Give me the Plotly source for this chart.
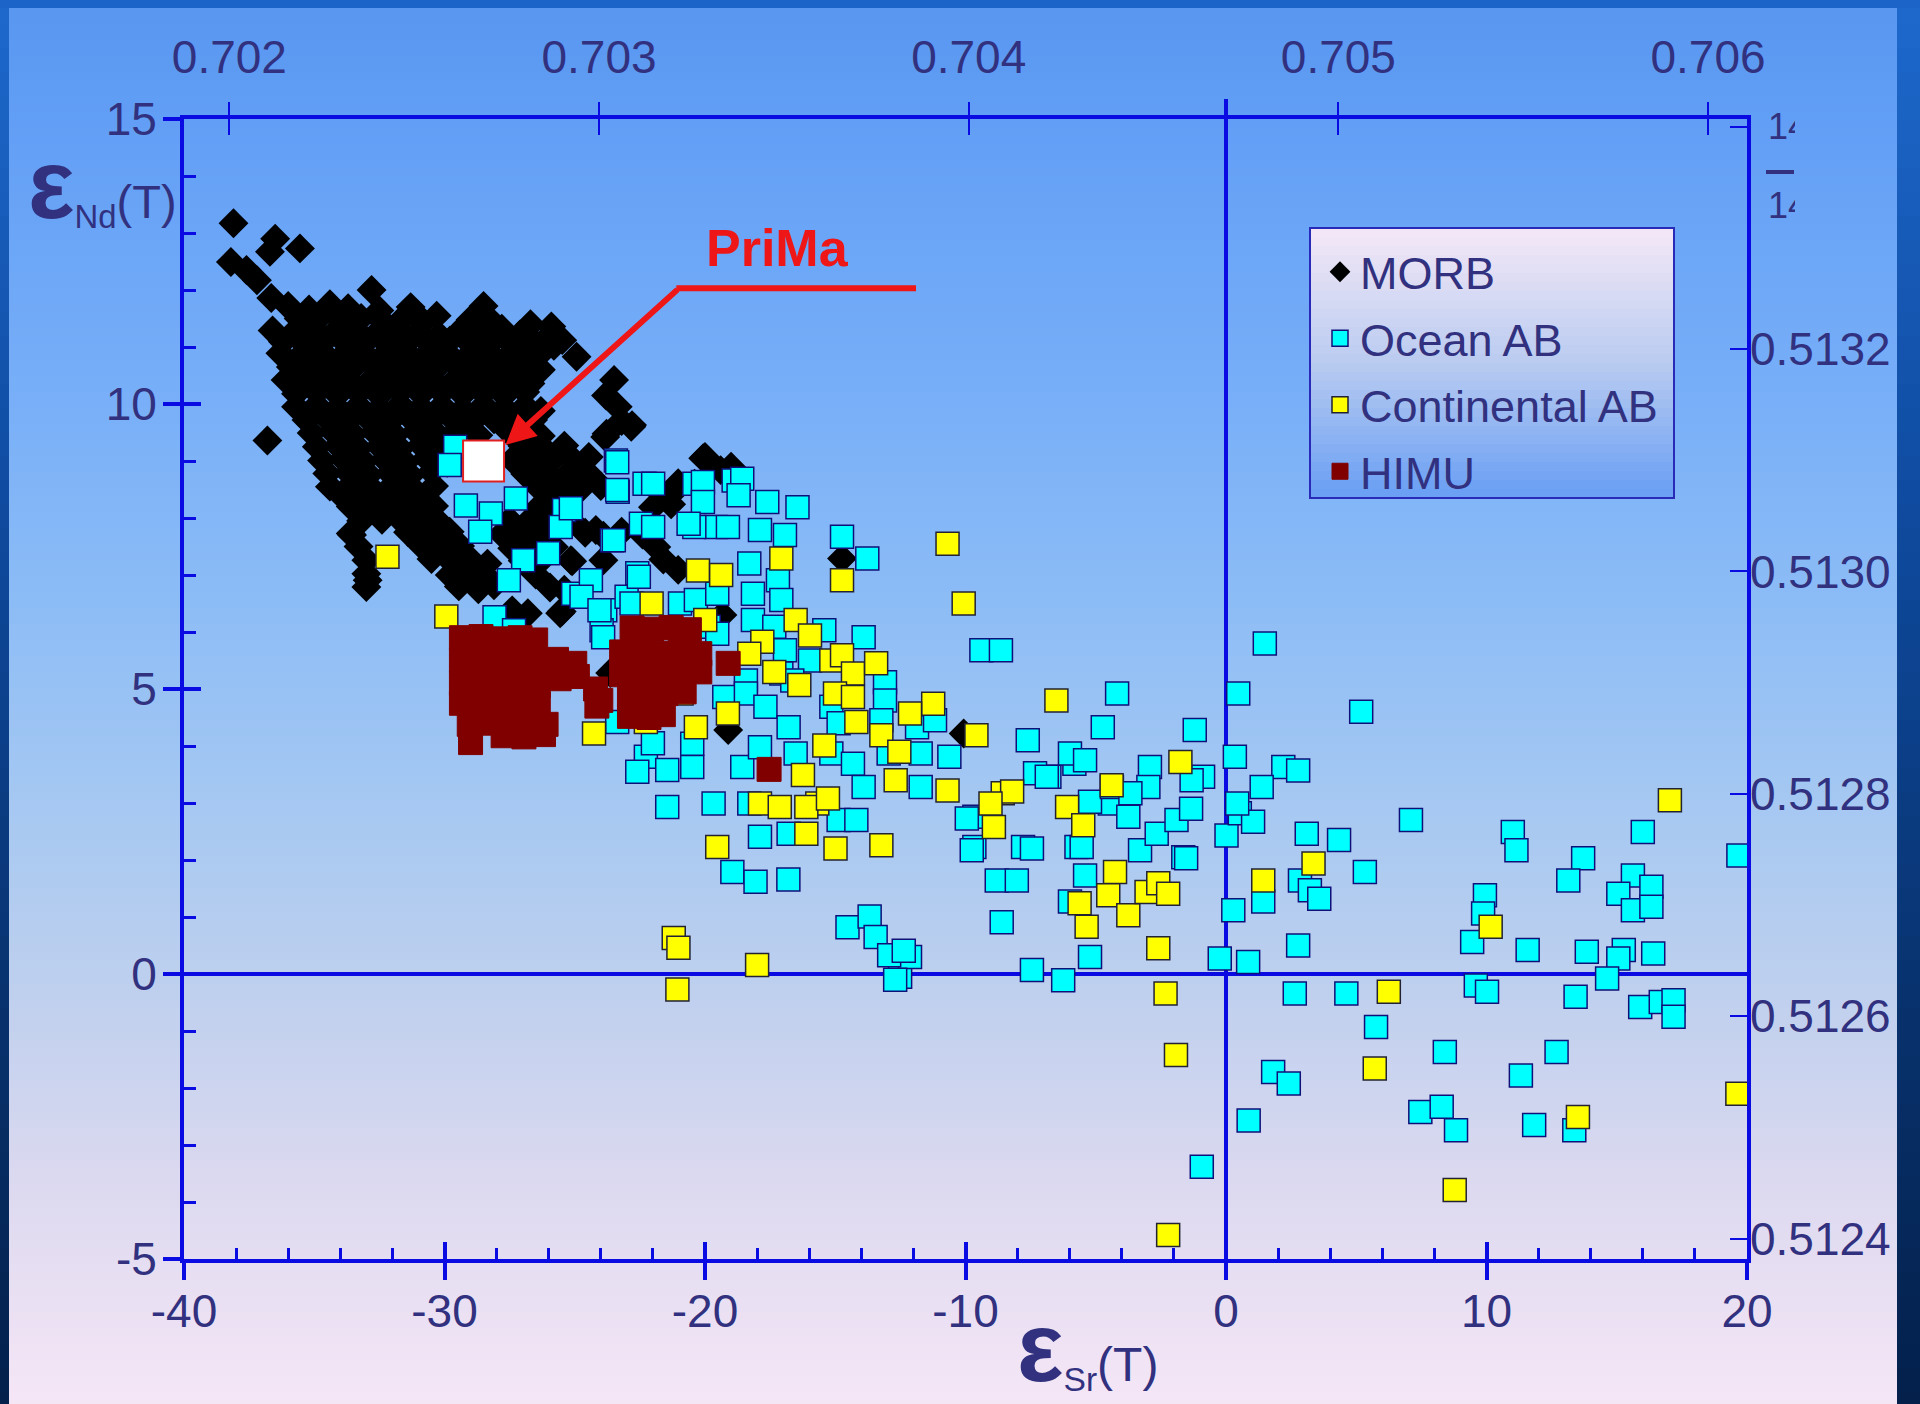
import plotly.graph_objects as go

# ------------------------------------------------------------------
# Initial isotope compositions, (eps_Sr(T), eps_Nd(T)) pairs
# ------------------------------------------------------------------
MORB_PTS = [
    (-38.1, 13.17), (-36.5, 12.90), (-36.7, 12.67), (-35.55, 12.73),
    (-38.2, 12.49), (-37.6, 12.35), (-37.2, 12.17), (-36.65, 11.86),
    (-32.8, 12.00), (-36.8, 9.36), (-33.55, 7.70), (-32.95, 6.91),
    (-36.0, 11.72), (-35.2, 11.66), (-34.4, 11.75), (-33.7, 11.68), (-32.5, 11.64),
    (-31.3, 11.70), (-30.3, 11.55), (-28.5, 11.72),
    (-35.6, 11.50), (-34.8, 11.52), (-34.0, 11.47), (-33.2, 11.51), (-32.4, 11.46),
    (-31.6, 11.50), (-30.8, 11.44), (-29.0, 11.48), (-28.2, 11.45), (-26.7, 11.40),
    (-25.9, 11.36),
    (-36.6, 11.29), (-35.8, 11.25), (-35.0, 11.32), (-34.2, 11.27), (-33.4, 11.30),
    (-32.6, 11.24), (-31.8, 11.31), (-31.0, 11.26), (-30.2, 11.20), (-29.4, 11.28),
    (-28.6, 11.25), (-27.8, 11.32), (-27.1, 11.22),
    (-36.2, 11.09), (-35.4, 11.06), (-34.6, 11.11), (-33.8, 11.07), (-33.0, 11.10),
    (-32.2, 11.05), (-31.4, 11.09), (-30.6, 11.06), (-29.8, 11.11), (-29.0, 11.05),
    (-28.2, 11.08), (-27.4, 11.04), (-26.6, 11.10), (-25.8, 11.02),
    (-26.02, 11.18), (-25.48, 11.12), (-24.93, 10.83), (-26.44, 10.83),
    (-36.3, 10.89), (-35.5, 10.86), (-34.7, 10.92), (-33.9, 10.85), (-33.1, 10.90),
    (-32.3, 10.87), (-31.5, 10.93), (-30.7, 10.86), (-29.9, 10.90), (-29.1, 10.84),
    (-28.3, 10.91), (-27.5, 10.86), (-26.7, 10.95),
    (-35.9, 10.65), (-35.1, 10.63), (-34.3, 10.67), (-33.5, 10.64), (-32.7, 10.66),
    (-31.9, 10.62), (-31.1, 10.68), (-30.3, 10.63), (-29.5, 10.66), (-28.7, 10.61),
    (-27.9, 10.67), (-27.1, 10.63), (-26.3, 10.60),
    (-36.1, 10.42), (-35.3, 10.45), (-34.5, 10.40), (-33.7, 10.44), (-32.9, 10.39),
    (-32.1, 10.46), (-31.3, 10.41), (-30.5, 10.45), (-29.7, 10.38), (-28.9, 10.44),
    (-28.1, 10.40), (-27.3, 10.47), (-26.7, 10.36), (-23.49, 10.42),
    (-35.7, 10.18), (-34.9, 10.20), (-34.1, 10.16), (-33.3, 10.19), (-32.5, 10.15),
    (-31.7, 10.21), (-30.9, 10.17), (-30.1, 10.20), (-29.3, 10.16), (-28.5, 10.19),
    (-27.7, 10.15), (-26.9, 10.21), (-23.8, 10.15),
    (-35.7, 9.95), (-34.9, 9.98), (-34.1, 9.93), (-33.3, 9.97), (-32.5, 9.92),
    (-31.7, 9.99), (-30.9, 9.94), (-30.1, 9.97), (-29.3, 9.91), (-28.5, 9.98),
    (-27.7, 9.93), (-26.9, 9.96), (-26.3, 9.88), (-23.35, 9.95),
    (-35.3, 9.72), (-34.5, 9.74), (-33.7, 9.70), (-32.9, 9.73), (-32.1, 9.69),
    (-31.3, 9.75), (-30.5, 9.71), (-29.7, 9.74), (-28.9, 9.70), (-28.1, 9.73),
    (-27.3, 9.69), (-26.6, 9.72), (-23.2, 9.70),
    (-35.1, 9.49), (-34.3, 9.52), (-33.5, 9.47), (-32.7, 9.51), (-31.9, 9.46),
    (-31.1, 9.52), (-30.3, 9.48), (-29.5, 9.55), (-28.7, 9.45), (-27.5, 9.50),
    (-26.3, 9.44), (-23.83, 9.42), (-22.8, 9.63),
    (-34.9, 9.25), (-34.1, 9.27), (-33.3, 9.23), (-32.5, 9.26), (-31.7, 9.22),
    (-30.9, 9.28), (-30.1, 9.24), (-27.0, 9.26), (-26.2, 9.22), (-25.4, 9.27),
    (-34.7, 9.01), (-33.9, 9.04), (-33.1, 8.99), (-32.3, 9.03), (-31.5, 8.98),
    (-30.7, 9.05), (-29.9, 8.97), (-27.4, 9.02), (-26.6, 8.96), (-25.8, 9.04),
    (-25.0, 8.99), (-20.0, 9.07), (-19.0, 8.90),
    (-34.5, 8.78), (-33.7, 8.80), (-32.9, 8.76), (-32.1, 8.79), (-31.3, 8.75),
    (-30.5, 8.81), (-26.9, 8.77), (-26.1, 8.80), (-25.3, 8.75), (-24.5, 8.79),
    (-34.4, 8.55), (-33.6, 8.58), (-32.8, 8.52), (-32.0, 8.57), (-31.2, 8.51),
    (-30.4, 8.56), (-26.4, 8.54), (-25.6, 8.58), (-24.8, 8.50), (-24.0, 8.56),
    (-21.0, 8.55), (-20.4, 8.60),
    (-33.9, 8.37), (-33.1, 8.39), (-32.3, 8.35), (-31.5, 8.38), (-30.7, 8.34),
    (-26.0, 8.37), (-25.2, 8.33), (-21.6, 8.38),
    (-33.6, 8.20), (-32.8, 8.17), (-32.0, 8.22), (-31.2, 8.16), (-30.4, 8.21),
    (-26.4, 8.18), (-25.6, 8.23), (-22.0, 8.19), (-21.3, 8.24),
    (-33.2, 7.95), (-32.4, 7.97), (-31.6, 7.93), (-30.9, 7.96), (-30.2, 7.92),
    (-27.5, 7.96), (-26.8, 7.93), (-26.0, 7.97),
    (-33.6, 7.73), (-31.4, 7.75), (-30.6, 7.70), (-29.8, 7.76), (-27.8, 7.72),
    (-27.1, 7.77), (-26.4, 7.70), (-24.6, 7.74), (-23.9, 7.69), (-23.2, 7.76),
    (-22.4, 7.71),
    (-33.3, 7.50), (-30.9, 7.52), (-30.1, 7.48), (-29.4, 7.51), (-27.4, 7.47),
    (-26.6, 7.52), (-25.8, 7.49),
    (-33.0, 7.26), (-30.5, 7.28), (-29.7, 7.22), (-29.0, 7.27), (-28.35, 7.20),
    (-27.0, 7.25), (-26.2, 7.30), (-25.1, 7.24), (-21.6, 7.27),
    (-33.0, 7.02), (-29.8, 7.00), (-29.1, 7.04), (-28.4, 6.98), (-26.5, 7.01),
    (-33.0, 6.79), (-29.45, 6.80), (-28.7, 6.75), (-28.1, 6.82), (-25.95, 6.78),
    (-25.4, 6.74), (-27.4, 6.38), (-26.8, 6.33), (-25.5, 6.36),
    (-22.83, 9.60), (-23.78, 9.48), (-24.46, 9.07), (-20.07, 9.05), (-19.4, 8.84),
    (-21.03, 8.61), (-25.15, 7.96), (-24.19, 7.79), (-25.15, 7.26), (-23.9, 7.26),
    (-21.03, 7.09), (-25.56, 6.33), (-21.87, 7.49), (-25.0, 8.44),
    (-14.74, 7.29), (-19.11, 4.28), (-10.07, 4.22), (-23.64, 5.28), (-19.33, 6.30),
]

OCEAN_AB_PTS = [
    (-29.59, 9.25), (-29.8, 8.93), (-29.18, 8.22), (-28.22, 8.08), (-27.26, 8.34),
    (-28.63, 7.76), (-25.41, 8.14), (-25.54, 7.84), (-23.42, 9.01), (-23.35, 8.46),
    (-22.32, 8.60), (-23.57, 7.61), (-22.46, 7.90), (-20.41, 8.60), (-19.58, 7.84),
    (-20.41, 7.84), (-18.9, 8.66), (-26.02, 7.38), (-26.98, 7.26), (-27.53, 6.91),
    (-28.08, 6.26), (-27.33, 6.03), (-25.06, 6.67), (-24.38, 6.91), (-23.83, 6.38),
    (-23.01, 6.62), (-22.6, 7.03), (-23.97, 6.03), (-20.96, 6.50), (-19.86, 6.09),
    (-23.37, 8.98), (-23.37, 8.49), (-21.99, 8.60), (-25.15, 8.17), (-20.08, 8.63),
    (-18.57, 8.69), (-20.08, 8.28), (-18.71, 8.40), (-17.61, 8.28), (-16.45, 8.19),
    (-21.99, 7.84), (-23.5, 7.61), (-20.63, 7.90), (-19.12, 7.84), (-17.89, 7.79),
    (-16.93, 7.70), (-14.74, 7.67), (-13.77, 7.29), (-22.54, 6.97), (-24.74, 6.62),
    (-24.05, 6.38), (-22.82, 6.50), (-20.35, 6.56), (-19.53, 6.67), (-18.3, 7.20),
    (-18.16, 6.67), (-17.2, 6.91), (-17.07, 6.56), (-18.16, 6.21), (-23.91, 5.91),
    (-20.76, 5.91), (-19.53, 5.97), (-17.34, 6.09), (-15.42, 6.03), (-13.91, 5.91),
    (-16.93, 5.68), (-15.97, 5.50), (-18.43, 5.15), (-17.07, 5.27), (-19.26, 4.86),
    (-18.43, 4.92), (-17.68, 4.69), (-16.65, 5.15), (-13.09, 5.12), (-13.09, 4.80),
    (-15.15, 4.69), (-14.87, 4.40), (-13.23, 4.45), (-11.86, 4.33), (-11.17, 4.45),
    (-10.62, 3.81), (-9.39, 5.68), (-8.64, 5.68), (-7.61, 4.10), (-4.18, 4.92),
    (-4.73, 4.33), (-6.78, 3.46), (-5.82, 3.69), (-23.37, 4.42), (-22.27, 3.81),
    (-21.45, 3.58), (-20.49, 3.63), (-20.49, 4.04), (-18.57, 3.63), (-17.89, 3.98),
    (-16.79, 4.33), (-16.52, 3.87), (-15.15, 3.87), (-14.32, 3.69), (-13.91, 3.28),
    (-12.95, 3.87), (-11.72, 3.87), (-11.72, 3.28), (-9.66, 2.76), (-21.45, 2.93),
    (-19.67, 2.99), (-18.3, 2.99), (-17.89, 2.41), (-16.79, 2.46), (-14.87, 2.70),
    (-14.19, 2.70), (-7.33, 3.52), (-9.66, 2.23), (-7.79, 2.23), (-5.74, 2.23),
    (-4.46, 2.99),
    (1.49, 5.80), (0.47, 4.92), (-1.2, 4.28), (0.34, 3.81), (-5.99, 3.87),
    (-5.41, 3.75), (-6.88, 3.46), (-2.92, 3.63), (-0.88, 3.46), (-1.32, 3.40),
    (-2.98, 3.28), (-9.95, 2.73), (-9.76, 2.17), (-8.8, 1.64), (-8.03, 1.64),
    (-8.61, 0.91), (-7.45, 2.20), (-5.22, 3.02), (-5.54, 2.23), (-3.75, 2.76),
    (-3.30, 2.17), (-2.66, 2.46), (-1.90, 2.70), (-1.64, 2.05), (-4.38, 3.28),
    (-3.67, 3.17), (-5.41, 1.73), (-5.99, 1.27), (-5.22, 0.30), (0.02, 2.43),
    (0.53, 2.82), (1.04, 2.67), (0.28, 1.12), (1.43, 1.27), (3.10, 2.46),
    (2.77, 0.50), (-0.24, 0.27), (0.85, 0.21), (-7.45, 0.07), (-6.25, -0.11),
    (2.64, -0.34), (-12.51, -0.05), (-12.13, 0.30), (2.2, 3.63), (2.77, 3.57),
    (1.37, 3.28), (2.84, 1.64), (3.22, 1.47),
    (5.19, 4.60), (-1.34, 2.90), (0.43, 2.99), (7.10, 2.70), (4.34, 2.35),
    (5.33, 1.79), (-1.53, 2.03), (3.58, 1.32), (11.01, 2.49), (11.15, 2.17),
    (13.71, 2.03), (13.14, 1.64), (16.0, 2.49), (19.67, 2.08), (15.62, 1.73),
    (16.33, 1.53), (15.06, 1.41), (15.62, 1.12), (16.33, 1.18), (9.94, 1.38),
    (9.87, 1.06), (9.45, 0.56), (11.58, 0.42), (13.85, 0.39), (15.27, 0.42),
    (15.06, 0.27), (16.4, 0.36), (14.63, -0.08), (9.59, -0.20), (10.02, -0.31),
    (13.42, -0.40), (15.9, -0.58), (16.69, -0.49), (17.18, -0.46), (17.18, -0.75),
    (4.62, -0.34), (5.76, -0.93),
    (1.81, -1.72), (2.41, -1.92), (0.87, -2.57), (-0.93, -3.38), (7.46, -2.42),
    (8.28, -2.33), (8.83, -2.74), (8.40, -1.37), (12.69, -1.37), (11.32, -1.78),
    (11.83, -2.65), (13.37, -2.74),
    (-14.53, 0.82), (-13.68, 1.01), (-13.45, 0.65), (-12.93, 0.33), (-12.37, 0.41),
    (-12.70, -0.10), (-18.95, 1.79), (-18.06, 1.62), (-16.8, 1.66), (-22.0, 4.05),
    (-22.6, 3.55),
]

CONT_AB_PTS = [
    (-32.19, 7.32), (-29.93, 6.27), (-22.05, 6.50), (-20.27, 7.08), (-19.38, 7.00),
    (-19.99, 6.21), (-17.07, 7.29), (-14.74, 6.91), (-16.52, 6.21), (-15.97, 5.94),
    (-17.8, 5.83), (-18.3, 5.62), (-17.34, 5.30), (-15.15, 5.50), (-14.74, 5.59),
    (-14.32, 5.27), (-13.43, 5.45), (-15.01, 4.92), (-14.32, 4.86), (-16.38, 5.07),
    (-14.19, 4.42), (-13.23, 4.19), (-12.54, 3.90), (-11.24, 4.74), (-12.13, 4.57),
    (-9.58, 4.19), (-15.42, 4.01), (-19.12, 4.57), (-20.35, 4.33), (-24.26, 4.22),
    (-22.27, 4.42), (-20.9, 4.92), (-10.69, 7.55), (-10.07, 6.50), (-6.51, 4.80),
    (-4.39, 3.31), (-6.1, 2.93), (-5.48, 2.61), (-8.57, 3.17), (-8.91, 2.58),
    (-10.69, 3.22), (-12.68, 3.40), (-16.24, 3.49), (-15.69, 2.99), (-16.11, 2.93),
    (-15.28, 3.08), (-17.89, 2.99), (-17.13, 2.93), (-16.11, 2.46), (-14.99, 2.20),
    (-13.23, 2.26), (-19.53, 2.23), (-8.21, 3.20), (-9.04, 2.99), (-4.26, 1.79),
    (-5.62, 1.24), (-5.35, 0.83), (-4.52, 1.38), (-3.75, 1.03), (-3.05, 1.44),
    (-2.6, 1.59), (-2.22, 1.41), (-2.6, 0.45), (-1.75, 3.72), (-2.32, -0.34),
    (1.43, 1.64), (3.36, 1.94), (17.04, 3.05), (10.16, 0.83), (6.25, -0.31),
    (-1.92, -1.42), (-2.22, -4.58), (5.71, -1.66), (8.78, -3.79), (13.51, -2.51),
    (19.63, -2.10), (-21.2, 0.63), (-21.02, 0.46), (-21.06, -0.27), (-18.0, 0.16),
]

HIMU_PTS = [
    (-29.35, 5.90), (-28.6, 5.92), (-27.85, 5.88), (-27.1, 5.90), (-26.5, 5.86),
    (-29.35, 5.50), (-28.6, 5.52), (-27.85, 5.48), (-27.1, 5.50), (-26.5, 5.46),
    (-25.7, 5.52), (-25.0, 5.45),
    (-29.35, 5.10), (-28.6, 5.12), (-27.85, 5.08), (-27.1, 5.10), (-26.4, 5.06),
    (-25.6, 5.18), (-24.9, 5.22), (-24.2, 5.00),
    (-29.35, 4.75), (-28.7, 4.72), (-27.9, 4.76), (-27.1, 4.70), (-26.4, 4.74),
    (-24.0, 4.80), (-24.15, 4.70),
    (-29.05, 4.38), (-28.3, 4.40), (-27.55, 4.36), (-26.8, 4.40), (-26.1, 4.38),
    (-29.0, 4.06), (-27.75, 4.18), (-26.95, 4.16), (-26.2, 4.20),
    (-22.8, 6.07), (-22.05, 6.05), (-21.3, 6.08), (-20.6, 6.04),
    (-23.2, 5.65), (-22.45, 5.67), (-21.7, 5.63), (-20.95, 5.66), (-20.2, 5.62),
    (-23.2, 5.25), (-22.45, 5.27), (-21.7, 5.23), (-20.95, 5.26), (-20.2, 5.30),
    (-22.9, 4.90), (-22.2, 4.88), (-21.5, 4.92), (-20.8, 4.95),
    (-22.9, 4.52), (-22.15, 4.50), (-21.6, 4.55),
    (-19.11, 5.45), (-17.54, 3.59),
]

# Primitive mantle estimate and its call-out
PRIMA_PT = (-28.5, 9.0)
PRIMA_LABEL_PT = (-17.2, 12.73)
PRIMA_LEADER_END = (-11.9, 12.03)
PRIMA_LEADER_KNEE = (-21.0, 12.03)
PRIMA_ARROW_TIP = (-27.66, 9.28)

# Axes
X_RANGE = [-40, 20]
Y_RANGE = [-5, 15]
ESR_TICKS = [-40, -30, -20, -10, 0, 10, 20]
ESR_TICK_TEXT = ["-40", "-30", "-20", "-10", "0", "10", "20"]
END_TICKS = [-5, 0, 5, 10, 15]
END_TICK_TEXT = ["-5", "0", "5", "10", "15"]
SR_RATIO_TICKS = [0.702, 0.703, 0.704, 0.705, 0.706]
SR_RATIO_TEXT = ["0.702", "0.703", "0.704", "0.705", "0.706"]
ND_RATIO_TICKS = [0.5124, 0.5126, 0.5128, 0.5130, 0.5132, 0.5134]
ND_RATIO_TEXT = ["0.5124", "0.5126", "0.5128", "0.5130", "0.5132", ""]

# Bulk-earth reference ratios used to turn epsilon units into ratios
SR_BULK = 0.704696
ND_CHUR = 0.512638

# ------------------------------------------------------------------
# Page geometry and styling
# ------------------------------------------------------------------
W, H = 1920, 1404
L, R, T, B = 184, 173, 119, 145
PW, PH = W - L - R, H - T - B

FONT = "Liberation Sans, Arial, Helvetica, sans-serif"
TXT = "#31317f"
AX_BLUE = "#0a0ae2"
RED = "#ee1616"

BG_STOPS = [(0, (88, 150, 240)), (150, (100, 160, 246)), (400, (120, 175, 248)),
            (600, (140, 188, 246)), (800, (165, 200, 242)), (1000, (192, 208, 238)),
            (1200, (222, 218, 240)), (1404, (245, 230, 246))]
EDGE_STOPS = [(0, (30, 105, 205)), (500, (15, 75, 160)), (1000, (8, 50, 110)),
              (1404, (4, 32, 75))]
LEG_STOPS = [(0, (245, 232, 247)), (0.5, (185, 203, 240)), (1, (104, 158, 244))]

LEG_BOX = (1310, 228, 1674, 498)   # left, top, right, bottom in pixels


def px_x(px):
    return (px - L) / PW


def px_y(py):
    return (H - B - py) / PH


def mix(stops, t):
    for (p0, c0), (p1, c1) in zip(stops, stops[1:]):
        if p0 <= t <= p1:
            f = (t - p0) / (p1 - p0)
            return "rgb(%d,%d,%d)" % tuple(round(a + (b - a) * f) for a, b in zip(c0, c1))
    return "rgb(%d,%d,%d)" % stops[-1][1]


def split(pts):
    return [p[0] for p in pts], [p[1] for p in pts]


def rect(x0, y0, x1, y1, color, layer="below"):
    return dict(type="rect", xref="paper", yref="paper", layer=layer,
                x0=px_x(x0), x1=px_x(x1), y0=px_y(y1), y1=px_y(y0),
                fillcolor=color, line=dict(width=0))


shapes = []
# slide background: vertical blue-to-pink gradient
step = 8
for y in range(0, H, step):
    shapes.append(rect(0, y, W, y + step + 1, mix(BG_STOPS, y + step / 2)))
# darker slide frame on the left, top and right edges
for y in range(0, H, 24):
    c = mix(EDGE_STOPS, y + 12)
    shapes.append(rect(0, y, 9, y + 25, c))
    shapes.append(rect(1897, y, W, y + 25, c))
shapes.append(rect(0, 0, W, 8, "rgb(28,100,200)"))

# legend panel gradient (pink at top, blue at bottom) and border
lx0, ly0, lx1, ly1 = LEG_BOX
n = 30
for i in range(n):
    ya = ly0 + (ly1 - ly0) * i / n
    yb = ly0 + (ly1 - ly0) * (i + 1) / n + 1
    shapes.append(rect(lx0, ya, lx1, yb, mix(LEG_STOPS, (i + 0.5) / n)))
shapes.append(dict(type="rect", xref="paper", yref="paper", layer="below",
                   x0=px_x(lx0), x1=px_x(lx1), y0=px_y(ly1), y1=px_y(ly0),
                   line=dict(color="#2a2ab8", width=2), fillcolor="rgba(0,0,0,0)"))

# the eps_Sr = 0 line pokes slightly above the top frame
shapes.append(dict(type="line", xref="x", yref="paper", x0=0, x1=0, y0=1.0,
                   y1=1.0 + 20 / PH, line=dict(color=AX_BLUE, width=4)))
# fraction bar of the clipped right-hand axis title
shapes.append(dict(type="line", xref="paper", yref="paper", x0=px_x(1766), x1=px_x(1794),
                   y0=px_y(172), y1=px_y(172), line=dict(color=TXT, width=4)))
# horizontal leader under the PriMa label
shapes.append(dict(type="line", xref="x", yref="y",
                   x0=PRIMA_LEADER_KNEE[0] - 0.1, x1=PRIMA_LEADER_END[0],
                   y0=PRIMA_LEADER_KNEE[1], y1=PRIMA_LEADER_END[1],
                   line=dict(color=RED, width=6)))

# ------------------------------------------------------------------
# Traces
# ------------------------------------------------------------------
fig = go.Figure()

series = [
    ("MORB", MORB_PTS, dict(symbol="diamond", size=23, color="#000000", line=dict(width=0))),
    ("Ocean AB", OCEAN_AB_PTS, dict(symbol="square", size=23, color="#00ffff",
                                   line=dict(color="#10107a", width=1.5))),
    ("Continental AB", CONT_AB_PTS, dict(symbol="square", size=23, color="#ffff00",
                                         line=dict(color="#222233", width=1.5))),
    ("HIMU", HIMU_PTS, dict(symbol="square", size=24, color="#800000",
                            line=dict(color="#800000", width=1))),
]
for name, pts, marker in series:
    xs, ys = split(pts)
    fig.add_trace(go.Scatter(x=xs, y=ys, mode="markers", name=name, legendgroup=name,
                             marker=marker, cliponaxis=False, hoverinfo="skip"))

fig.add_trace(go.Scatter(x=[PRIMA_PT[0]], y=[PRIMA_PT[1]], mode="markers", showlegend=False,
                         marker=dict(symbol="square", size=41, color="#ffffff",
                                     line=dict(color="#e02020", width=2)),
                         cliponaxis=False, hoverinfo="skip"))

# empty traces so the secondary / tick-only axes get drawn
for xa, ya in [("x2", "y"), ("x3", "y"), ("x4", "y"), ("x", "y2"), ("x", "y3")]:
    fig.add_trace(go.Scatter(x=[], y=[], xaxis=xa, yaxis=ya, showlegend=False,
                             hoverinfo="skip"))

# ------------------------------------------------------------------
# Axes
# ------------------------------------------------------------------
tick_font = dict(family=FONT, size=46, color=TXT)
sr_range = [SR_BULK * (1 + X_RANGE[0] / 1e4), SR_BULK * (1 + X_RANGE[1] / 1e4)]
nd_range = [ND_CHUR * (1 + Y_RANGE[0] / 1e4), ND_CHUR * (1 + Y_RANGE[1] / 1e4)]

x_minor = [v for v in range(X_RANGE[0] + 2, X_RANGE[1], 2) if v % 10]
y_minor = [v for v in range(Y_RANGE[0] + 1, Y_RANGE[1]) if v % 5]

plain = dict(showgrid=False, zeroline=False, fixedrange=True)

fig.update_layout(
    template="none",
    width=W, height=H, autosize=False,
    margin=dict(l=L, r=R, t=T, b=B, pad=0),
    paper_bgcolor="rgb(245,230,246)",
    plot_bgcolor="rgba(0,0,0,0)",
    shapes=shapes,
    showlegend=True,
    legend=dict(x=px_x(1320), y=px_y(236), xanchor="left", yanchor="top",
                bgcolor="rgba(0,0,0,0)", borderwidth=0, tracegroupgap=5,
                font=dict(family=FONT, size=45, color=TXT)),
    xaxis=dict(range=X_RANGE, showgrid=False, fixedrange=True,
               zeroline=True, zerolinecolor=AX_BLUE, zerolinewidth=4,
               showline=True, linecolor=AX_BLUE, linewidth=4, mirror=True,
               tickmode="array", tickvals=ESR_TICKS, ticktext=ESR_TICK_TEXT,
               ticks="outside", ticklen=17, tickwidth=4, tickcolor=AX_BLUE,
               tickfont=tick_font, ticklabelstandoff=-8,
               minor=dict(tickmode="array", tickvals=x_minor, ticks="inside",
                          ticklen=11, tickwidth=3, tickcolor=AX_BLUE, showgrid=False)),
    xaxis3=dict(range=X_RANGE, overlaying="x", anchor="y", side="bottom",
                tickmode="array", tickvals=ESR_TICKS, ticks="inside", ticklen=17,
                tickwidth=4, tickcolor=AX_BLUE, showticklabels=False, showline=False, **plain),
    xaxis2=dict(range=sr_range, overlaying="x", anchor="y", side="top",
                tickmode="array", tickvals=SR_RATIO_TICKS, ticktext=SR_RATIO_TEXT,
                ticks="outside", ticklen=16, tickwidth=2, tickcolor=AX_BLUE,
                tickfont=tick_font, ticklabelstandoff=11, showline=False, **plain),
    xaxis4=dict(range=sr_range, overlaying="x", anchor="y", side="top",
                tickmode="array", tickvals=SR_RATIO_TICKS, ticks="inside", ticklen=16,
                tickwidth=2, tickcolor=AX_BLUE, showticklabels=False, showline=False, **plain),
    yaxis=dict(range=Y_RANGE, showgrid=False, fixedrange=True,
               zeroline=True, zerolinecolor=AX_BLUE, zerolinewidth=4,
               showline=True, linecolor=AX_BLUE, linewidth=4, mirror=True,
               tickmode="array", tickvals=END_TICKS, ticktext=END_TICK_TEXT,
               ticks="outside", ticklen=17, tickwidth=4, tickcolor=AX_BLUE,
               tickfont=tick_font, ticklabelstandoff=-3,
               minor=dict(tickmode="array", tickvals=y_minor, ticks="inside",
                          ticklen=12, tickwidth=3, tickcolor=AX_BLUE, showgrid=False)),
    yaxis3=dict(range=Y_RANGE, overlaying="y", anchor="x", side="left",
                tickmode="array", tickvals=END_TICKS, ticks="inside", ticklen=17,
                tickwidth=4, tickcolor=AX_BLUE, showticklabels=False, showline=False, **plain),
    yaxis2=dict(range=nd_range, overlaying="y", anchor="x", side="right",
                tickmode="array", tickvals=ND_RATIO_TICKS, ticktext=ND_RATIO_TEXT,
                ticks="inside", ticklen=17, tickwidth=2, tickcolor=AX_BLUE,
                tickfont=tick_font, ticklabelstandoff=2, showline=False, **plain),
)

# ------------------------------------------------------------------
# Text
# ------------------------------------------------------------------
annotations = [
    # y-axis title
    dict(xref="paper", yref="paper", x=px_x(26), y=px_y(184), xanchor="left",
         yanchor="middle", showarrow=False,
         text='<b><span style="font-size:98px">ε</span></b><sub>Nd</sub>(T)',
         font=dict(family=FONT, size=47, color=TXT)),
    # x-axis title
    dict(xref="paper", yref="paper", x=px_x(1087), y=px_y(1404), xanchor="center",
         yanchor="bottom", showarrow=False,
         text='<b><span style="font-size:98px">ε</span></b><sub>Sr</sub>(T)',
         font=dict(family=FONT, size=48, color=TXT)),
    # right-hand ratio title, clipped by the slide edge
    dict(xref="paper", yref="paper", x=px_x(1766), y=px_y(126), xanchor="left",
         yanchor="middle", showarrow=False, text="14", width=27, align="left",
         font=dict(family=FONT, size=36, color=TXT)),
    dict(xref="paper", yref="paper", x=px_x(1766), y=px_y(205), xanchor="left",
         yanchor="middle", showarrow=False, text="14", width=27, align="left",
         font=dict(family=FONT, size=36, color=TXT)),
    # PriMa call-out
    dict(xref="x", yref="y", x=PRIMA_LABEL_PT[0], y=PRIMA_LABEL_PT[1], showarrow=False,
         text="<b>PriMa</b>", font=dict(family=FONT, size=52, color=RED)),
    dict(xref="x", yref="y", axref="x", ayref="y",
         x=PRIMA_ARROW_TIP[0], y=PRIMA_ARROW_TIP[1],
         ax=PRIMA_LEADER_KNEE[0], ay=PRIMA_LEADER_KNEE[1],
         text="", showarrow=True, arrowhead=2, arrowsize=1.0, arrowwidth=6,
         arrowcolor=RED, standoff=0, startstandoff=0),
]
fig.update_layout(annotations=annotations)

fig.write_html("out.html")
